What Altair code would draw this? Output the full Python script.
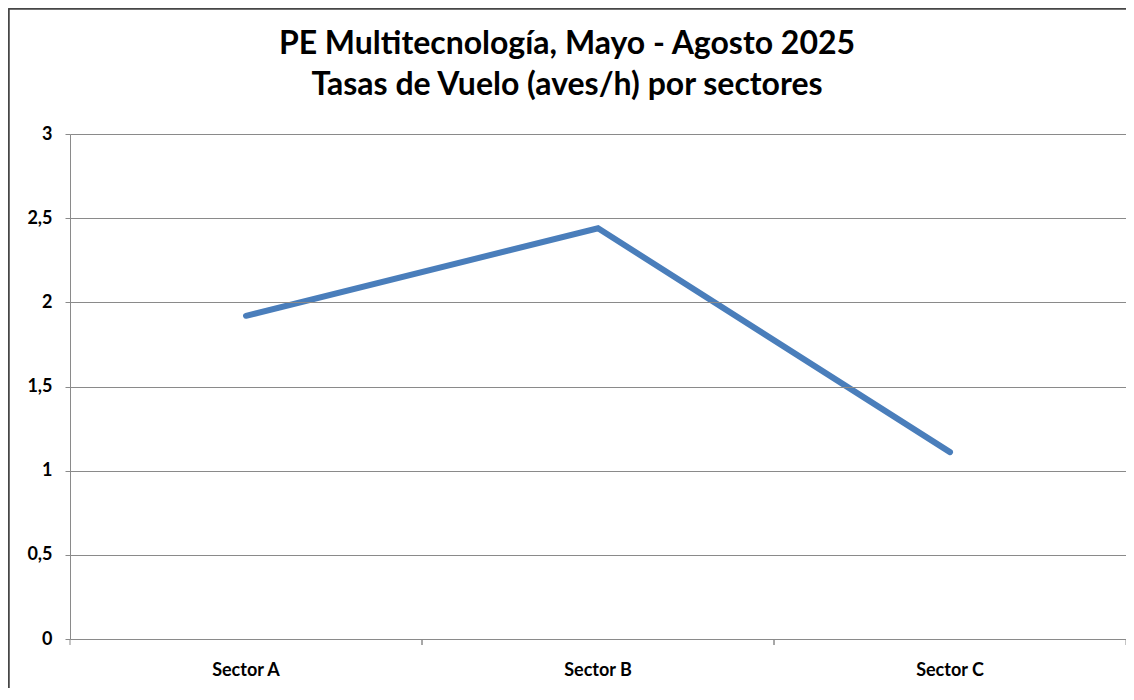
import altair as alt
import pandas as pd

sectors = ["Sector A", "Sector B", "Sector C"]
rates = [1.92, 2.44, 1.11]
y_ticks = [0, 0.5, 1, 1.5, 2, 2.5, 3]
title_lines = ["PE Multitecnología,  Mayo - Agosto 2025", "Tasas de Vuelo (aves/h) por sectores"]

df = pd.DataFrame({"sector": sectors, "rate": rates})
title_df = pd.DataFrame({"text": title_lines, "line": [0, 1]})

W, H = 1056, 505
FONT = "Lato"
GRID = "#8a8a8a"

x_enc = alt.X("sector:N", sort=sectors, title=None,
              scale=alt.Scale(paddingInner=0, paddingOuter=0),
              axis=alt.Axis(labelAngle=0, labelAlign="center", labelFont=FONT,
                            labelFontSize=18, labelFontWeight="bold",
                            labelColor="#000000", labelPadding=31, ticks=False,
                            domain=False, grid=False, zindex=1))
y_enc = alt.Y("rate:Q", title=None,
              scale=alt.Scale(domain=[0, 3], nice=False),
              axis=alt.Axis(values=y_ticks, labelFont=FONT, labelFontSize=18,
                            labelFontWeight="bold", labelColor="#000000",
                            labelExpr="replace(toString(datum.value), '.', ',')",
                            tickSize=5, tickColor=GRID, labelPadding=13,
                            domainColor=GRID, gridColor=GRID, gridWidth=1,
                            grid=True, zindex=1))

base = alt.Chart(df)

border = base.mark_rect(fill="white", stroke="#444444", strokeWidth=1.5).encode(
    x=alt.value(-61), x2=alt.value(W + 200), y=alt.value(-125), y2=alt.value(H + 200)
)

title = alt.Chart(title_df).mark_text(font=FONT, fontSize=32, fontWeight="bold",
                                      color="#000000", align="center",
                                      baseline="alphabetic").encode(
    text="text:N",
    x=alt.value(497),
    y=alt.Y("line:Q", axis=None, scale=alt.Scale(domain=[0, 1], range=[-80, -39])),
)

line = base.mark_line(color="#4A7EBB", strokeWidth=6, strokeCap="round",
                      strokeJoin="miter").encode(x=x_enc, y=y_enc)

ticks_left = base.mark_rule(color=GRID, strokeWidth=1).encode(
    x=alt.X("sector:N", sort=sectors, bandPosition=0),
    y=alt.value(H), y2=alt.value(H + 6))
ticks_right = base.mark_rule(color=GRID, strokeWidth=1).encode(
    x=alt.X("sector:N", sort=sectors, bandPosition=1),
    y=alt.value(H), y2=alt.value(H + 6))

chart = alt.layer(border, ticks_left, ticks_right, line, title).resolve_scale(
    y="independent"
).properties(
    width=W, height=H,
    autosize=alt.AutoSizeParams(type="none"),
    padding={"left": 62, "top": 126, "right": 0, "bottom": 49},
).configure_view(stroke=None).configure(background="white")

chart.save("out.html", embed_options={"renderer": "svg", "actions": False})
